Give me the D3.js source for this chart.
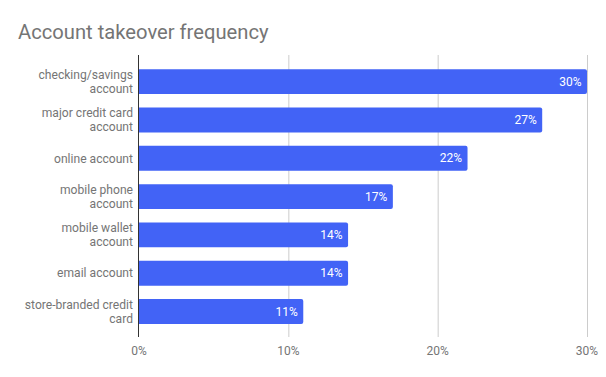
<!DOCTYPE html>
<html>
<head>
<meta charset="utf-8">
<script src="https://cdn.jsdelivr.net/npm/d3@7"></script>
<style>
  body { margin: 0; background: #fff; }
  text { font-family: Roboto, "Noto Sans", sans-serif; }
</style>
</head>
<body>
<svg id="chart" width="606" height="377"></svg>
<script>
// data
const categories = [
    ["checking/savings", "account"],
    ["major credit card", "account"],
    ["online account"],
    ["mobile phone", "account"],
    ["mobile wallet", "account"],
    ["email account"],
    ["store-branded credit", "card"]
];
const values = [30, 27, 22, 17, 14, 14, 11];
const xTicks = [0, 10, 20, 30];

const svg = d3.select('#chart');
const grey = '#757575';
const barColor = '#4263f6';

svg.append('text')
    .attr('x', 18)
    .attr('y', 39)
    .attr('font-size', 20.2)
    .attr('fill', grey)
    .text('Account takeover frequency');

const x = d3.scaleLinear().domain([0, 30]).range([139, 587]);
const y = d3.scaleBand()
    .domain(d3.range(categories.length))
    .range([62.5, 330.7])
    .paddingInner(0.35)
    .paddingOuter(0.175);

const g = svg.append('g');

// vertical gridlines
g.selectAll('.grid')
    .data(xTicks.slice(1))
    .join('line')
    .classed('grid', true)
    .attr('x1', d => x(d) + 0.5)
    .attr('x2', d => x(d) + 0.5)
    .attr('y1', 55)
    .attr('y2', 337)
    .attr('stroke', '#cccccc');

// tick labels
g.selectAll('.tick')
    .data(xTicks)
    .join('text')
    .classed('tick', true)
    .attr('x', d => x(d))
    .attr('y', 355)
    .attr('text-anchor', 'middle')
    .attr('font-size', 12)
    .attr('fill', grey)
    .text(d => d + '%');

// bars (slight rounding on the right end)
g.selectAll('.bar')
    .data(values)
    .join('path')
    .classed('bar', true)
    .attr('fill', barColor)
    .attr('d', (d, i) => {
        const x0 = x(0), x1 = x(d), y0 = y(i), h = y.bandwidth(), r = 2;
        return `M${x0},${y0}H${x1 - r}Q${x1},${y0} ${x1},${y0 + r}V${y0 + h - r}Q${x1},${y0 + h} ${x1 - r},${y0 + h}H${x0}Z`;
    });

// value labels inside bars
g.selectAll('.val')
    .data(values)
    .join('text')
    .classed('val', true)
    .attr('x', d => x(d) - 5.5)
    .attr('y', (d, i) => y(i) + y.bandwidth() / 2)
    .attr('dy', '.35em')
    .attr('text-anchor', 'end')
    .attr('font-size', 12)
    .attr('fill', '#fff')
    .text(d => d + '%');

// category labels, one or two lines
const labels = g.selectAll('.cat')
    .data(categories)
    .join('text')
    .classed('cat', true)
    .attr('text-anchor', 'end')
    .attr('font-size', 12.1)
    .attr('fill', grey);

labels.each(function(lines, i) {
    const cy = y(i) + y.bandwidth() / 2;
    const lh = 14.5;
    const top = cy - (lines.length - 1) * lh / 2;
    d3.select(this).selectAll('tspan')
        .data(lines)
        .join('tspan')
        .attr('x', 133)
        .attr('y', (l, j) => top + j * lh)
        .attr('dy', '.35em')
        .text(l => l);
});

// baseline axis
g.append('line')
    .attr('x1', x(0) - 0.5)
    .attr('x2', x(0) - 0.5)
    .attr('y1', 55)
    .attr('y2', 337)
    .attr('stroke', '#333333');
</script>
</body>
</html>
